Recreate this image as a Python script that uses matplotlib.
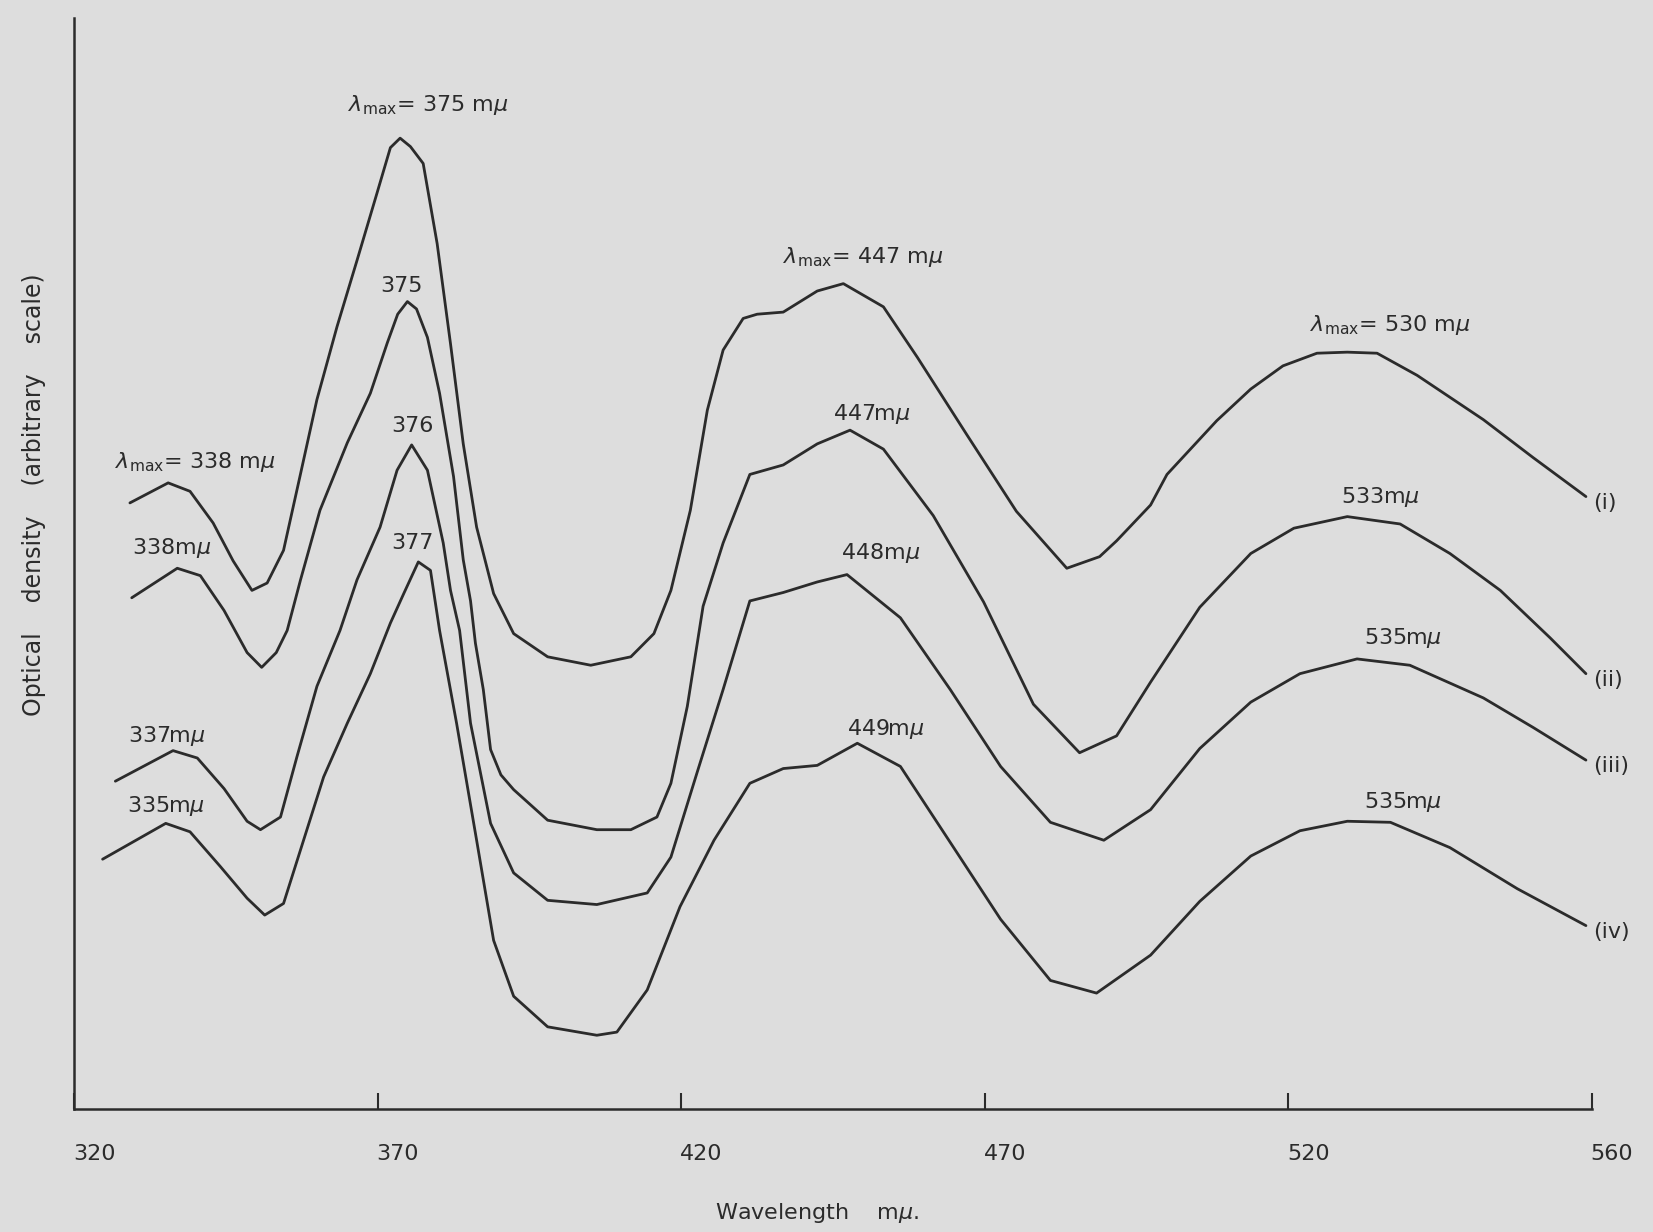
#Absorption spectra (i)-(iv), redrawn from the hand-drawn original

import matplotlib
matplotlib.use("Agg")
import matplotlib.pyplot as plt
from matplotlib.transforms import ScaledTranslation

#DATA (wavelength in m-mu, optical density in arbitrary units)
wl_i = [329.2, 335.5, 339.1, 342.9, 346.2, 349.3, 351.8, 354.5, 357.2, 360.0,
        363.3, 366.6, 369.9, 372.1, 373.7, 375.4, 377.5, 379.8, 382.0, 384.1,
        386.3, 389.1, 392.4, 398.0, 405.1, 411.7, 415.5, 418.3, 421.5, 424.3,
        426.9, 430.2, 432.5, 436.8, 442.4, 446.7, 453.3, 458.9, 467.0, 475.2,
        483.5, 488.9, 491.7, 497.3, 500.0, 508.2, 513.8, 519.1, 524.7, 529.7,
        534.6, 541.2, 552.1, 560.3, 569.0]
od_i = [57.5, 59.4, 58.6, 55.6, 52.0, 49.2, 49.9, 53.0, 60.0, 67.3,
        74.2, 80.5, 86.9, 91.2, 92.1, 91.3, 89.7, 82.1, 72.6, 63.1,
        55.2, 48.9, 45.1, 42.9, 42.1, 42.9, 45.1, 49.2, 56.8, 66.3,
        72.0, 75.0, 75.4, 75.6, 77.6, 78.3, 76.1, 71.3, 64.0, 56.7,
        51.3, 52.4, 53.9, 57.3, 60.2, 65.3, 68.3, 70.5, 71.7, 71.8,
        71.7, 69.6, 65.4, 61.8, 58.1]

wl_ii = [329.5, 337.0, 340.8, 344.7, 348.5, 350.9, 353.3, 355.1, 357.3, 360.5,
         365.0, 368.8, 371.6, 373.3, 374.9, 376.4, 378.2, 380.2, 382.5, 384.1,
         385.3, 386.1, 387.4, 388.6, 390.3, 392.4, 398.0, 406.1, 411.7, 416.0,
         418.3, 421.0, 423.6, 426.9, 431.3, 436.8, 442.4, 447.8, 453.3, 461.5,
         469.8, 478.0, 485.6, 491.7, 497.3, 505.4, 513.8, 520.9, 529.7, 538.4,
         546.6, 554.9, 563.1, 569.0]
od_ii = [48.5, 51.3, 50.6, 47.3, 43.3, 41.9, 43.3, 45.4, 50.2, 56.8,
         63.2, 67.9, 72.7, 75.4, 76.6, 75.9, 73.2, 67.9, 60.0, 52.1,
         48.2, 44.2, 39.8, 34.1, 31.7, 30.3, 27.4, 26.5, 26.5, 27.7,
         30.9, 38.2, 47.7, 53.7, 60.2, 61.1, 63.1, 64.4, 62.6, 56.3,
         48.1, 38.4, 33.8, 35.4, 40.5, 47.6, 52.7, 55.1, 56.2, 55.5,
         52.7, 49.2, 44.7, 41.3]

wl_iii = [326.8, 336.3, 340.3, 344.7, 348.5, 350.7, 354.0, 356.7, 360.0, 363.8,
          366.6, 370.4, 373.2, 375.6, 378.2, 380.8, 382.0, 383.5, 385.3, 388.6,
          392.4, 398.0, 406.1, 414.4, 418.3, 422.6, 426.9, 431.3, 436.8, 442.4,
          447.3, 456.1, 464.3, 472.6, 480.8, 489.6, 497.3, 505.4, 513.8, 521.9,
          531.3, 540.0, 552.1, 560.3, 569.0]
od_iii = [31.1, 34.0, 33.3, 30.4, 27.3, 26.5, 27.7, 33.4, 40.1, 45.4,
          50.2, 55.2, 60.6, 63.0, 60.6, 53.7, 49.2, 45.4, 36.6, 27.1,
          22.4, 19.8, 19.4, 20.5, 23.9, 31.9, 39.8, 48.2, 49.0, 50.0,
          50.7, 46.6, 39.8, 32.5, 27.2, 25.5, 28.4, 34.2, 38.6, 41.3,
          42.7, 42.1, 39.0, 36.2, 33.1]

wl_iv = [324.7, 335.1, 339.1, 344.1, 348.5, 351.4, 354.5, 357.8, 361.1, 365.0,
         368.8, 372.1, 374.3, 376.7, 378.7, 379.2, 380.2, 383.0, 386.3, 389.1,
         392.4, 398.0, 406.1, 409.4, 414.4, 419.8, 425.4, 431.3, 436.8, 442.4,
         449.0, 456.1, 464.3, 472.6, 480.8, 488.4, 497.3, 505.4, 513.8, 521.9,
         529.7, 536.8, 546.6, 557.7, 569.0]
od_iv = [23.7, 27.1, 26.3, 23.0, 20.0, 18.4, 19.5, 25.5, 31.5, 36.6,
         41.3, 46.1, 48.9, 51.9, 51.1, 49.2, 45.4, 36.6, 25.5, 16.0,
         10.7, 7.8, 7.0, 7.3, 11.3, 19.2, 25.5, 30.9, 32.3, 32.6,
         34.7, 32.5, 25.3, 18.0, 12.2, 11.0, 14.6, 19.7, 24.0, 26.4,
         27.3, 27.2, 24.8, 20.9, 17.4]

curve_names = ["(i)", "(ii)", "(iii)", "(iv)"]

# the hand-drawn axis has equal spacing, the last mark is lettered 560
tick_pos = [320, 370, 420, 470, 520, 570]
tick_txt = ["320", "370", "420", "470", "520", "560"]

LAMBDA = r"$\lambda_{\mathregular{max}}$"
MU = r"$\mu$"

INK = "#2b2b2b"
PAPER = "#dddddd"
FS = 16


def desenharCurvas(ax):
    series = [(wl_i, od_i), (wl_ii, od_ii), (wl_iii, od_iii), (wl_iv, od_iv)]
    for (wl, od), name in zip(series, curve_names):
        ax.plot(wl, od, color=INK, lw=2.0, solid_joinstyle="round",
                solid_capstyle="round")
        # curve name right after the end of the line
        ax.text(wl[-1] + 1.2, od[-1] - 0.6, name, fontsize=FS, color=INK,
                ha="left", va="center")


def escreverPicos(ax):
    kw = dict(fontsize=FS, color=INK)
    # first curve: full lambda-max labels
    ax.text(326.8, 60.8, LAMBDA + "= 338 m" + MU, ha="left", va="baseline", **kw)
    ax.text(365.1, 94.7, LAMBDA + "= 375 m" + MU, ha="left", va="baseline", **kw)
    ax.text(436.8, 80.3, LAMBDA + "= 447 m" + MU, ha="left", va="baseline", **kw)
    ax.text(523.6, 73.8, LAMBDA + "= 530 m" + MU, ha="left", va="baseline", **kw)
    # other curves
    ax.text(336.0, 52.7, "338m" + MU, ha="center", va="baseline", **kw)
    ax.text(335.3, 34.8, "337m" + MU, ha="center", va="baseline", **kw)
    ax.text(335.1, 28.2, "335m" + MU, ha="center", va="baseline", **kw)
    ax.text(374.0, 77.5, "375", ha="center", va="baseline", **kw)
    ax.text(375.8, 64.2, "376", ha="center", va="baseline", **kw)
    ax.text(375.7, 53.1, "377", ha="center", va="baseline", **kw)
    ax.text(451.4, 65.4, "447m" + MU, ha="center", va="baseline", **kw)
    ax.text(452.9, 52.2, "448m" + MU, ha="center", va="baseline", **kw)
    ax.text(453.7, 35.5, "449m" + MU, ha="center", va="baseline", **kw)
    ax.text(535.1, 57.5, "533m" + MU, ha="center", va="baseline", **kw)
    ax.text(538.8, 44.1, "535m" + MU, ha="center", va="baseline", **kw)
    ax.text(538.9, 28.6, "535m" + MU, ha="center", va="baseline", **kw)


if __name__ == "__main__":
    plt.rcParams['font.family'] = ['DejaVu Sans']

    fig = plt.figure(figsize=(16.53, 12.32), dpi=100, facecolor=PAPER)
    ax = fig.add_axes([0.0448, 0.0998, 0.9183, 0.8856])
    ax.set_facecolor(PAPER)

    desenharCurvas(ax)
    escreverPicos(ax)

    ax.set_xlim(320, 570)
    ax.set_ylim(0, 103.5)

    for side in ["top", "right"]:
        ax.spines[side].set_visible(False)
    for side in ["left", "bottom"]:
        ax.spines[side].set_color(INK)
        ax.spines[side].set_linewidth(1.8)

    ax.set_yticks([])
    ax.set_xticks(tick_pos)
    ax.set_xticklabels(tick_txt)
    ax.tick_params(axis="x", direction="in", length=11.5, width=1.5,
                   color=INK, labelcolor=INK, labelsize=16, pad=25)
    # lettering sits a bit to the right of each mark
    shift = ScaledTranslation(0.2, 0, fig.dpi_scale_trans)
    for lab in ax.get_xticklabels():
        lab.set_transform(lab.get_transform() + shift)

    ax.set_xlabel("Wavelength    m" + MU + ".", fontsize=16, color=INK)
    ax.xaxis.set_label_coords(0.4895, -0.0953)
    ax.xaxis.label.set_verticalalignment("center")

    ax.set_ylabel("Optical    density    (arbitrary    scale)", fontsize=17, color=INK)
    ax.yaxis.set_label_coords(-0.0264, 0.563)
    ax.yaxis.label.set_verticalalignment("center")

    fig.savefig("out.png", dpi=100, facecolor=PAPER)
